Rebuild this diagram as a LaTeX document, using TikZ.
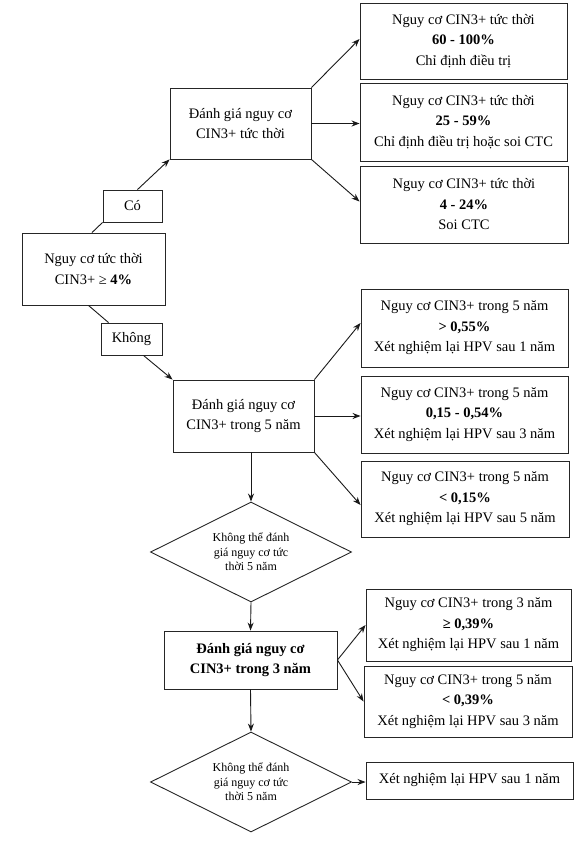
\documentclass[tikz,border=0pt]{standalone}
\usepackage{fontspec}
\setmainfont{Liberation Serif}
\usetikzlibrary{arrows.meta,shapes.geometric}
\begin{document}
\begin{tikzpicture}[x=1pt,y=-1pt,
  box/.style={draw=black!85, line width=0.9pt, inner sep=0pt, align=center,
    font=\fontsize{14.5}{20.5}\selectfont},
  dia/.style={draw=black!85, line width=0.9pt, diamond, aspect=2, inner sep=0pt,
    minimum width=201pt, minimum height=100pt, align=center,
    font=\fontsize{12}{14.5}\selectfont},
  con/.style={line width=0.9pt, draw=black!90},
  arr/.style={con, -{Stealth[length=8pt,width=6pt]}}]
\useasboundingbox (0,0) rectangle (576,854);

% top branch
\node[box, minimum width=207pt, minimum height=76pt] (A1) at (463.5,41)
  {Nguy cơ CIN3+ tức thời\\ \textbf{60 - 100\%}\\ Chỉ định điều trị};
\node[box, minimum width=207pt, minimum height=78pt] (A2) at (463.5,122)
  {Nguy cơ CIN3+ tức thời\\ \textbf{25 - 59\%}\\ Chỉ định điều trị hoặc soi CTC};
\node[box, minimum width=208pt, minimum height=77pt] (A3) at (464,204.5)
  {Nguy cơ CIN3+ tức thời\\ \textbf{4 - 24\%}\\ Soi CTC};
\node[box, minimum width=141pt, minimum height=71pt] (E1) at (240.5,123.5)
  {Đánh giá nguy cơ\\ CIN3+ tức thời};
\node[box, minimum width=59pt, minimum height=32pt] (Co) at (132.5,206) {Có};
\node[box, minimum width=143pt, minimum height=72pt] (S) at (93.5,269)
  {Nguy cơ tức thời\\ CIN3+ ≥ \textbf{4\%}};
\node[box, minimum width=61pt, minimum height=32pt] (Kh) at (131.5,339) {Không};

% 5-year branch
\node[box, minimum width=141pt, minimum height=72pt] (E2) at (243.5,416)
  {Đánh giá nguy cơ\\ CIN3+ trong 5 năm};
\node[box, minimum width=207pt, minimum height=78pt] (B1) at (464.5,328)
  {Nguy cơ CIN3+ trong 5 năm\\ \textbf{> 0,55\%}\\ Xét nghiệm lại HPV sau 1 năm};
\node[box, minimum width=207pt, minimum height=77pt] (B2) at (464.5,414.5)
  {Nguy cơ CIN3+ trong 5 năm\\ \textbf{0,15 - 0,54\%}\\ Xét nghiệm lại HPV sau 3 năm};
\node[box, minimum width=208pt, minimum height=76pt] (B3) at (465,499)
  {Nguy cơ CIN3+ trong 5 năm\\ \textbf{< 0,15\%}\\ Xét nghiệm lại HPV sau 5 năm};
\node[dia] (D1) at (251,552) {Không thể đánh\\ giá nguy cơ tức\\ thời 5 năm};

% 3-year branch
\node[box, minimum width=173pt, minimum height=58pt] (E3) at (250.5,660)
  {\textbf{Đánh giá nguy cơ}\\ \textbf{CIN3+ trong 3 năm}};
\node[box, minimum width=205pt, minimum height=72pt] (C1) at (468.5,625)
  {Nguy cơ CIN3+ trong 3 năm\\ \textbf{≥ 0,39\%}\\ Xét nghiệm lại HPV sau 1 năm};
\node[box, minimum width=208pt, minimum height=71pt] (C2) at (468,701.5)
  {Nguy cơ CIN3+ trong 5 năm\\ \textbf{< 0,39\%}\\ Xét nghiệm lại HPV sau 3 năm};
\node[dia] (D2) at (251,782) {Không thể đánh\\ giá nguy cơ tức\\ thời 5 năm};
\node[box, minimum width=207pt, minimum height=37pt] (D) at (469.5,780.5)
  {Xét nghiệm lại HPV sau 1 năm};

% connectors
\draw[con] ([xshift=-1.5pt]S.north) -- (Co.south west);
\draw[arr] ([xshift=5pt]Co.north) -- (E1.south west);
\draw[arr] (E1.north east) -- ([yshift=2pt]A1.west);
\draw[arr] (E1.east) -- (E1.east -| A2.west);
\draw[arr] (E1.south east) -- ([yshift=3pt]A3.west);

\draw[con] ([xshift=-5pt]S.south) -- ([xshift=-23pt]Kh.north);
\draw[arr] ([xshift=12pt]Kh.south) -- (E2.north west);
\draw[arr] (E2.north east) -- ([yshift=5pt]B1.west);
\draw[arr] (E2.east) -- (E2.east -| B2.west);
\draw[arr] (E2.south east) -- ([yshift=-6pt]B3.west);
\draw[arr] (E2.south -| D1.north) -- (D1.north);

\draw[arr] (D1.south) -- (E3.north);
\draw[arr] (E3.east) -- (C1.west);
\draw[arr] (E3.east) -- (C2.west);
\draw[arr] (E3.south) -- (D2.north);
\draw[arr] (D2.east) -- (D2.east -| D.west);
\end{tikzpicture}
\end{document}
